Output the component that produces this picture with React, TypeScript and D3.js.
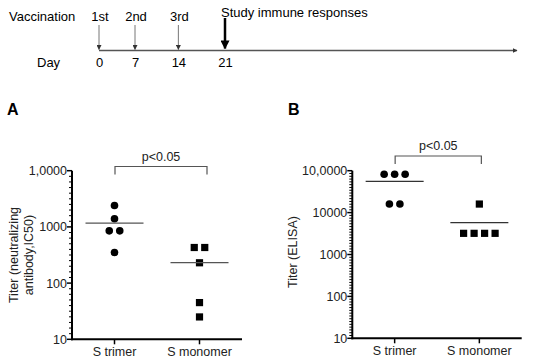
import * as d3 from 'd3';
import { useEffect, useRef } from 'react';

const categories = ['S trimer', 'S monomer'];

// panel A: neutralizing antibody IC50
const neutTrimer = [2400, 1400, 850, 850, 350];
const neutMonomer = [430, 430, 230, 45, 25];
const neutTicks = [10, 100, 1000, 10000];
const neutTickLabels = ['10', '100', '1000', '1,0000'];

// panel B: ELISA titer
const elisaTrimer = [82000, 82000, 82000, 16000, 16000];
const elisaMonomer = [16000, 3200, 3200, 3200, 3200];
const elisaTicks = [10, 100, 1000, 10000, 100000];
const elisaTickLabels = ['10', '100', '1000', '10000', '10,0000'];

// timeline
const days = [0, 7, 14, 21];
const doses = ['1st', '2nd', '3rd'];

const width = 550;
const height = 362;
const font = '"Liberation Sans", Arial, sans-serif';

// spread equal values side by side
const spread = (vals: number[], gap: number) => {
  const groups = d3.group(vals, v => v);
  const out: { v: number; dx: number }[] = [];
  groups.forEach((arr, v) => {
    arr.forEach((_, i) => out.push({ v, dx: (i - (arr.length - 1) / 2) * gap }));
  });
  return out;
};

// minor ticks evenly spaced inside each decade (like the prism axis)
const minorTicks = (majors: number[], n: number) => {
  const out: number[] = [];
  for (let k = 0; k < majors.length - 1; k++) {
    const l0 = Math.log10(majors[k]);
    for (let j = 1; j < n; j++) out.push(Math.pow(10, l0 + j / n));
  }
  return out;
};

const drawPanel = (svg: any, o: any) => {
  const g = svg.append('g');
  const y = d3.scaleLog().domain(o.domain).range([o.bottom, o.top]);
  const x = d3.scalePoint().domain(categories).range([o.left, o.right]).padding(0.5);

  // y axis
  g.append('line').attr('x1', o.left).attr('x2', o.left).attr('y1', o.top).attr('y2', o.bottom + 1)
    .attr('stroke', '#000').attr('stroke-width', 2);
  g.selectAll('.minor').data(minorTicks(o.ticks, o.minorN)).enter().append('line')
    .attr('x1', o.left - 3).attr('x2', o.left).attr('y1', d => y(d)).attr('y2', d => y(d))
    .attr('stroke', '#000').attr('stroke-width', 1);
  g.selectAll('.major').data(o.ticks).enter().append('line')
    .attr('x1', o.left - 5).attr('x2', o.left).attr('y1', d => y(d)).attr('y2', d => y(d))
    .attr('stroke', '#000').attr('stroke-width', 1.5);
  g.selectAll('.ylab').data(o.ticks).enter().append('text')
    .attr('x', o.left - 5).attr('y', d => y(d) + 4.5).attr('text-anchor', 'end')
    .attr('font-size', 12.5).attr('font-family', font).attr('fill', '#222')
    .text((d, i) => o.tickLabels[i]);

  // x axis
  g.append('line').attr('x1', o.left - 1).attr('x2', o.right).attr('y1', o.bottom).attr('y2', o.bottom)
    .attr('stroke', '#000').attr('stroke-width', 2);
  g.selectAll('.xt').data(categories).enter().append('line')
    .attr('x1', d => x(d)).attr('x2', d => x(d)).attr('y1', o.bottom).attr('y2', o.bottom + 5)
    .attr('stroke', '#000').attr('stroke-width', 1.5);
  g.selectAll('.xlab').data(categories).enter().append('text')
    .attr('x', d => x(d)).attr('y', o.bottom + 17).attr('text-anchor', 'middle')
    .attr('font-size', 12.5).attr('font-family', font).attr('fill', '#222').text(d => d);

  // y title
  const t = g.append('text').attr('transform', `translate(${o.titleX},${o.titleY}) rotate(-90)`)
    .attr('text-anchor', 'middle').attr('font-size', 12.5).attr('font-family', font).attr('fill', '#222');
  o.title.forEach((line: string, i: number) => {
    t.append('tspan').attr('x', 0).attr('dy', i === 0 ? 0 : 15.5).text(line);
  });

  // panel letter
  g.append('text').attr('x', o.letterX).attr('y', 115).attr('font-size', 16).attr('font-weight', 'bold')
    .attr('font-family', font).text(o.letter);

  // points
  const series = [o.trimer, o.monomer];
  series.forEach((vals: number[], si: number) => {
    const cx = x(categories[si]) as number;
    const pts = spread(vals, 10.5);
    if (si === 0) {
      g.selectAll('.c' + si).data(pts).enter().append('circle')
        .attr('cx', d => cx + d.dx).attr('cy', d => y(d.v)).attr('r', 3.8).attr('fill', '#000');
    } else {
      g.selectAll('.s' + si).data(pts).enter().append('rect')
        .attr('x', d => cx + d.dx - 3.6).attr('y', d => y(d.v) - 3.6)
        .attr('width', 7.2).attr('height', 7.2).attr('fill', '#000');
    }
    const m = d3.mean(vals) as number;
    g.append('line').attr('x1', cx - 29).attr('x2', cx + 29).attr('y1', y(m)).attr('y2', y(m))
      .attr('stroke', o.meanColor).attr('stroke-width', 1.3);
  });

  // significance bracket
  const bx1 = (x(categories[0]) as number) + 0.5;
  const bx2 = (x(categories[1]) as number) + o.bracketShift;
  g.append('path')
    .attr('d', `M${bx1},${o.bracketY + 8}V${o.bracketY}H${bx2}V${o.bracketY + 8}`)
    .attr('fill', 'none').attr('stroke', '#555').attr('stroke-width', 1.2);
  g.append('text').attr('x', (bx1 + bx2) / 2).attr('y', o.bracketY - 6).attr('text-anchor', 'middle')
    .attr('font-size', 12.5).attr('font-family', font).attr('fill', '#222').text('p<0.05');
};

const App = () => {
  const svgRef = useRef<SVGSVGElement>(null);

  useEffect(() => {
    const svg = d3.select(svgRef.current);
    svg.selectAll('*').remove();

    // defs for arrowheads
    const defs = svg.append('defs');
    defs.append('marker').attr('id', 'thin').attr('viewBox', '0 0 10 10').attr('refX', 9).attr('refY', 5)
      .attr('markerWidth', 5).attr('markerHeight', 5).attr('markerUnits', 'userSpaceOnUse').attr('orient', 'auto')
      .append('path').attr('d', 'M0,0L10,5L0,10Z').attr('fill', '#333');
    defs.append('marker').attr('id', 'thick').attr('viewBox', '0 0 10 10').attr('refX', 9).attr('refY', 5)
      .attr('markerWidth', 9).attr('markerHeight', 9).attr('markerUnits', 'userSpaceOnUse').attr('orient', 'auto')
      .append('path').attr('d', 'M0,0L10,5L0,10Z').attr('fill', '#000');

    // timeline
    const tl = svg.append('g');
    const dx = d3.scalePow().exponent(1.14).domain([0, 21]).range([99, 225]);
    tl.append('line').attr('x1', dx(0)).attr('x2', 517).attr('y1', 50.5).attr('y2', 50.5)
      .attr('stroke', '#555').attr('stroke-width', 1.3).attr('marker-end', 'url(#thin)');
    tl.append('text').attr('x', 9).attr('y', 21).attr('font-size', 13).attr('font-family', font).text('Vaccination');
    tl.append('text').attr('x', 37).attr('y', 67).attr('font-size', 13).attr('font-family', font).text('Day');
    tl.selectAll('.day').data(days).enter().append('text')
      .attr('x', d => dx(d) + 0.5).attr('y', 67).attr('text-anchor', 'middle')
      .attr('font-size', 13).attr('font-family', font).text(d => d);
    tl.selectAll('.dose').data(doses).enter().append('text')
      .attr('x', (d, i) => dx(days[i]) + 1).attr('y', 21).attr('text-anchor', 'middle')
      .attr('font-size', 13).attr('font-family', font).text(d => d);
    tl.selectAll('.arr').data(doses).enter().append('line')
      .attr('x1', (d, i) => dx(days[i])).attr('x2', (d, i) => dx(days[i]))
      .attr('y1', 25).attr('y2', 49.5)
      .attr('stroke', '#777').attr('stroke-width', 1).attr('marker-end', 'url(#thin)');
    tl.append('line').attr('x1', dx(21)).attr('x2', dx(21)).attr('y1', 18).attr('y2', 48.5)
      .attr('stroke', '#000').attr('stroke-width', 2.5).attr('marker-end', 'url(#thick)');
    tl.append('text').attr('x', dx(21) - 4).attr('y', 17).attr('font-size', 13).attr('font-family', font)
      .text('Study immune responses');

    drawPanel(svg, {
      letter: 'A', letterX: 7, domain: [10, 10000], top: 170.7, bottom: 339.3, left: 72, right: 242,
      ticks: neutTicks, tickLabels: neutTickLabels, trimer: neutTrimer, monomer: neutMonomer, minorN: 10,
      title: ['Titer (neutralizing', 'antibody,IC50)'], titleX: 17.5, titleY: 255,
      meanColor: '#555', bracketY: 166.5, bracketShift: 7.5,
    });
    drawPanel(svg, {
      letter: 'B', letterX: 288, domain: [10, 100000], top: 170.7, bottom: 338.3, left: 352.3, right: 521.7,
      ticks: elisaTicks, tickLabels: elisaTickLabels, trimer: elisaTrimer, monomer: elisaMonomer, minorN: 15,
      title: ['Titer (ELISA)'], titleX: 296.5, titleY: 252,
      meanColor: '#333', bracketY: 156, bracketShift: 2,
    });
  }, []);

  return (
    <svg ref={svgRef} width={width} height={height} viewBox={`0 0 ${width} ${height}`}
      style={{ position: 'absolute', left: 0, top: 0, background: '#fff' }} />
  );
};

export default App;
